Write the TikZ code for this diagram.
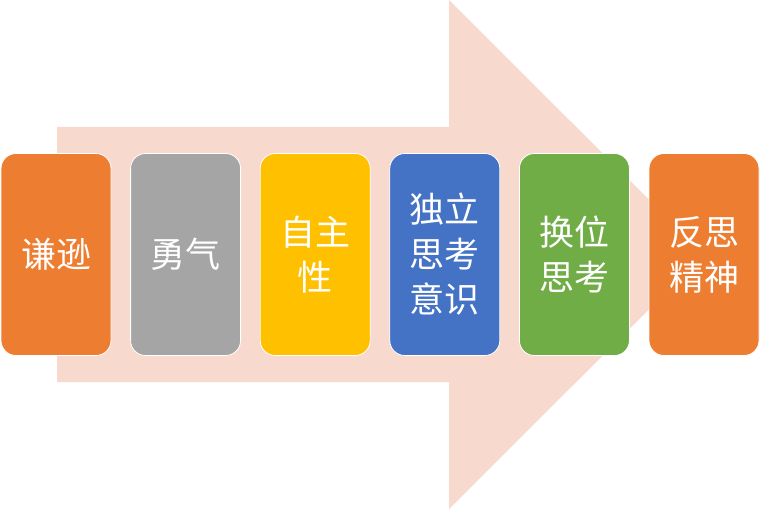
\documentclass[tikz,border=0pt]{standalone}
\usepackage{fontspec}
\newfontfamily\cjk{Noto Sans CJK SC}
\usetikzlibrary{positioning}
\definecolor{stageorange}{RGB}{237,125,49}
\definecolor{stagegray}{RGB}{165,165,165}
\definecolor{stageyellow}{RGB}{255,192,0}
\definecolor{stageblue}{RGB}{68,114,196}
\definecolor{stagegreen}{RGB}{112,173,71}
\definecolor{arrowpink}{RGB}{248,217,206}
\tikzset{
    stage/.style={
        draw=white,
        line width=0.8pt,
        outer sep=0pt,
        rounded corners=15pt,
        minimum width=110pt,
        minimum height=202pt,
        align=center,
        text=white,
        font=\cjk\fontsize{35}{45}\selectfont
    }
}

\begin{document}
\begin{tikzpicture}[
    x=1pt,
    y=1pt,
    node distance=19.6pt
]

\useasboundingbox (0,0) rectangle (760,509);

% Big arrow behind
\fill[arrowpink]
(57,127) -- (57,382) -- (449,382) -- (449,509) --
(704,254.5) -- (449,0) -- (449,127) -- cycle;

% Stages
\node[stage, fill=stageorange] (qx) at (56,254.5) {谦逊};
\node[stage, fill=stagegray, right=of qx] (yq) {勇气};
\node[stage, fill=stageyellow, right=of yq] (zz) {自主\\性};
\node[stage, fill=stageblue, right=of zz] (dl) {独立\\思考\\意识};
\node[stage, fill=stagegreen, right=of dl] (hw) {换位\\思考};
\node[stage, fill=stageorange, right=of hw] (fs) {反思\\精神};

\end{tikzpicture}
\end{document}
